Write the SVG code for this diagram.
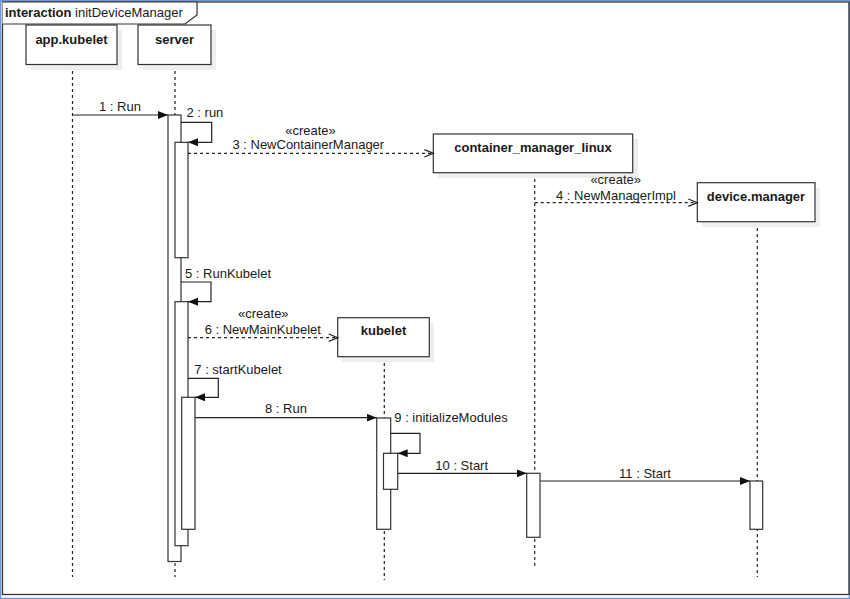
<svg xmlns="http://www.w3.org/2000/svg" width="850" height="599" viewBox="0 0 850 599">
<defs>
<style>
text{font-family:"Liberation Sans",Arial,sans-serif;font-size:13px;fill:#1a1a1a}
.b{font-weight:bold}
.m{text-anchor:middle}
.box{fill:#fff;stroke:#333;stroke-width:1.2}
.sh{fill:#eeeeee}
.life{stroke:#222;stroke-width:1.2;stroke-dasharray:3,3;fill:none}
.act{fill:#fff;stroke:#333;stroke-width:1.2}
.msg{stroke:#222;stroke-width:1.2;fill:none;marker-end:url(#fa)}
.cr{stroke:#222;stroke-width:1.2;fill:none;stroke-dasharray:3,3;marker-end:url(#oa)}
</style>
<marker id="fa" markerUnits="userSpaceOnUse" markerWidth="12" markerHeight="10" refX="10" refY="4" orient="auto"><path d="M0,0 L10,4 L0,8 z" fill="#111"/></marker>
<marker id="oa" markerUnits="userSpaceOnUse" markerWidth="12" markerHeight="10" refX="9.5" refY="4.5" orient="auto"><path d="M0.5,0.8 L9.5,4.5 L0.5,8.2" fill="none" stroke="#222" stroke-width="1.2"/></marker>
</defs>
<rect x="0" y="0" width="850" height="599" fill="#fff"/>
<rect x="0.5" y="0.5" width="849" height="598" fill="none" stroke="#6f97d6" stroke-width="1.5"/>
<g id="frame">
<rect x="2.5" y="2" width="846.5" height="592.5" fill="none" stroke="#333" stroke-width="1.3"/>
<path d="M2.5,2 L197,2 L197,15 L185,24 L2.5,24" fill="#fff" stroke="#333" stroke-width="1.2"/>
<text x="5" y="17"><tspan class="b">interaction</tspan> initDeviceManager</text>
</g>
<g id="lifelines">
<line class="life" x1="72.5" y1="65" x2="72.5" y2="577"/>
<line class="life" x1="175" y1="65" x2="175" y2="577"/>
<line class="life" x1="534.7" y1="173" x2="534.7" y2="566"/>
<line class="life" x1="757.3" y1="222" x2="757.3" y2="577"/>
<line class="life" x1="384.3" y1="357" x2="384.3" y2="580"/>
</g>
<g id="app.kubelet">
<rect class="sh" x="31" y="30" width="91" height="40"/>
<rect class="box" x="26" y="25" width="91" height="39.5"/>
<text class="b m" x="71.5" y="44">app.kubelet</text>
</g>
<g id="server">
<rect class="sh" x="143" y="30" width="73" height="40"/>
<rect class="box" x="138" y="25" width="73" height="39.5"/>
<text class="b m" x="174.5" y="44">server</text>
<rect class="act" x="168" y="115" width="13" height="446.5"/>
<rect class="act" x="175" y="142.3" width="13" height="115.4"/>
<rect class="act" x="175" y="301.7" width="13" height="244"/>
<rect class="act" x="181.7" y="397.3" width="13.3" height="132"/>
</g>
<g id="container_manager_linux">
<rect class="sh" x="438" y="139" width="200" height="39"/>
<rect class="box" x="433.3" y="134" width="199.4" height="38.7"/>
<text class="b m" x="533" y="152">container_manager_linux</text>
<rect class="act" x="526.7" y="473.3" width="13.3" height="64"/>
</g>
<g id="device.manager">
<rect class="sh" x="702" y="188" width="118" height="39"/>
<rect class="box" x="697.3" y="182.7" width="117.7" height="39"/>
<text class="b m" x="756" y="200.5">device.manager</text>
<rect class="act" x="750" y="481" width="12.7" height="48.3"/>
</g>
<g id="kubelet">
<rect class="sh" x="342" y="323" width="92" height="39"/>
<rect class="box" x="337.7" y="317.7" width="91.6" height="39"/>
<text class="b m" x="383.5" y="335">kubelet</text>
<rect class="act" x="376.7" y="418" width="14" height="111.3"/>
<rect class="act" x="383.5" y="453.3" width="14.2" height="36"/>
</g>
<g id="connectors">
<line class="msg" x1="72.5" y1="115" x2="168" y2="115"/>
<polyline class="msg" points="181,122.3 211.7,122.3 211.7,142.3 188,142.3"/>
<line class="cr" x1="188" y1="153.3" x2="433.3" y2="153.3"/>
<line class="cr" x1="534.7" y1="202.7" x2="697.3" y2="202.7"/>
<polyline class="msg" points="181,282 211,282 211,301.7 188,301.7"/>
<line class="cr" x1="188" y1="337.7" x2="337.7" y2="337.7"/>
<polyline class="msg" points="188,378.3 218.3,378.3 218.3,397.3 195,397.3"/>
<line class="msg" x1="195" y1="417.7" x2="376.7" y2="417.7"/>
<polyline class="msg" points="390.7,433.3 420,433.3 420,453.3 397.7,453.3"/>
<line class="msg" x1="397.7" y1="473.3" x2="526.7" y2="473.3"/>
<line class="msg" x1="540" y1="481" x2="750" y2="481"/>
</g>
<g id="labels">
<text class="m" x="120" y="110.5">1 : Run</text>
<text x="186.5" y="117.3">2 : run</text>
<text class="m" x="310.5" y="135">«create»</text>
<text class="m" x="308.3" y="148.7">3 : NewContainerManager</text>
<text class="m" x="615.7" y="184">«create»</text>
<text class="m" x="616" y="199.5">4 : NewManagerImpl</text>
<text x="185" y="278">5 : RunKubelet</text>
<text class="m" x="263.3" y="318.3">«create»</text>
<text class="m" x="262.8" y="333.7">6 : NewMainKubelet</text>
<text x="194.3" y="373.8">7 : startKubelet</text>
<text class="m" x="286" y="413.3">8 : Run</text>
<text x="394.3" y="421.7">9 : initializeModules</text>
<text class="m" x="461.7" y="469.7">10 : Start</text>
<text class="m" x="645" y="478">11 : Start</text>
</g>
</svg>
